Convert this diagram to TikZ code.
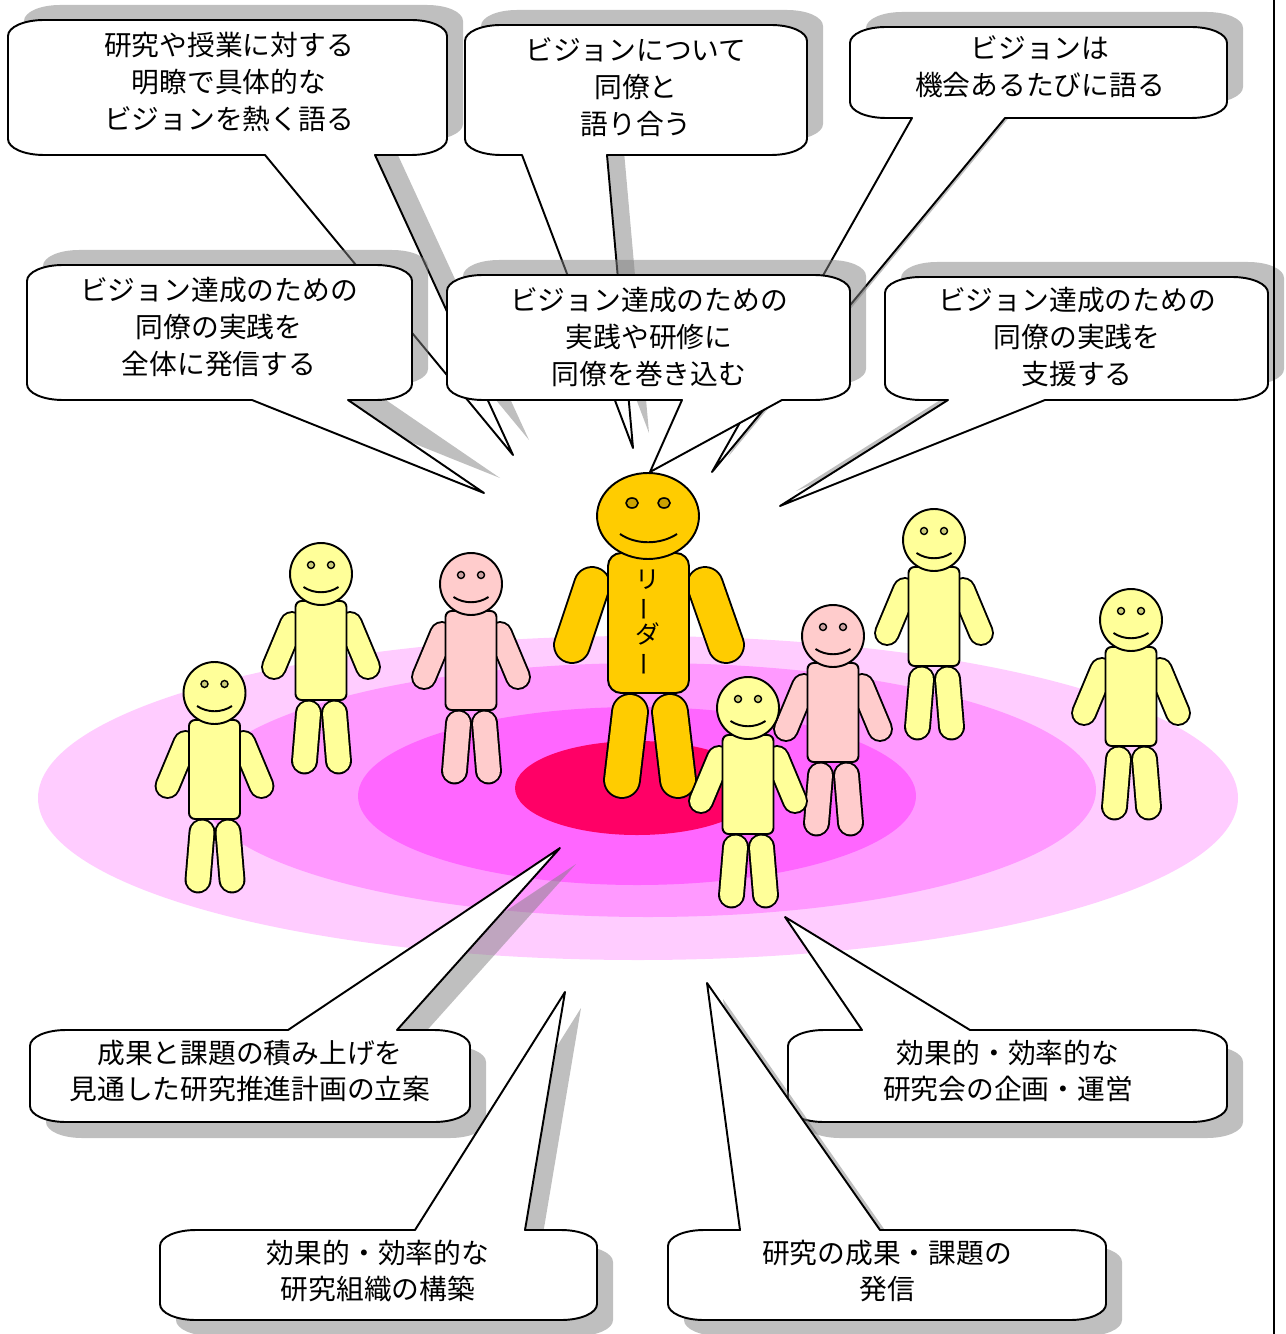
\documentclass[tikz,border=0pt]{standalone}
\usepackage{fontspec}
\usepackage{graphicx}
\newfontfamily\jp{Noto Sans CJK JP}
\usetikzlibrary{shapes.geometric,calc}

\definecolor{ringA}{HTML}{FFCCFF}
\definecolor{ringB}{HTML}{FF99FF}
\definecolor{ringC}{HTML}{FF66FF}
\definecolor{ringD}{HTML}{FF0066}
\definecolor{figY}{HTML}{FFFF99}
\definecolor{figP}{HTML}{FFCCCC}
\definecolor{lead}{HTML}{FFCC00}
\definecolor{shadowgray}{HTML}{808080}

% capsule limb: axis end points, radius (px), fill colour
\newcommand\capsule[4]{%
  \draw[line width={2*#3*0.567pt+1.1pt}, line cap=round, black] (#1) -- (#2);
  \draw[line width={2*#3*0.567pt-1.1pt}, line cap=round, #4] (#1) -- (#2);
}

% small figure: name, head centre x, y, colour
\newcommand\person[4]{%
  \begin{scope}[shift={(#2,#3)}]
    \capsule{-12.5,139}{-16.5,187}{12.5}{#4}
    \capsule{13.5,139}{17.5,187}{12.5}{#4}
    \capsule{-29,50}{-47,93}{12}{#4}
    \capsule{29,50}{47,93}{12}{#4}
    \node[figbody, fill=#4, minimum width=1.02cm, minimum height=1.98cm, rounded corners=3.4pt] (#1-body) at (0,76.5) {};
    \node[circle, draw, line width=1.1pt, fill=#4, minimum size=1.24cm, inner sep=0] (#1) at (0,0) {};
    \filldraw[fill=#4!80!black, line width=0.8pt] (-10,-9) circle [radius=3.5] (10,-9) circle [radius=3.5];
    \draw[line width=1.1pt] (-17.5,13) .. controls (-7,20) and (7,20) .. (17.5,13);
  \end{scope}
}

% callout with the pointer leaving the bottom edge
% #1 x1, #2 y1, #3 x2, #4 y2, #5 #6 pointer base, #7 tip, #8 #9 shadow offset
\newcommand\bubbledown[9]{%
  \def\bubblepath##1##2{
    (#1+##1,#2+16+##2)
    .. controls (#1+##1,#2+7+##2) and (#1+16+##1,#2+##2) .. (#1+36+##1,#2+##2)
    -- (#3-36+##1,#2+##2)
    .. controls (#3-16+##1,#2+##2) and (#3+##1,#2+7+##2) .. (#3+##1,#2+16+##2)
    -- (#3+##1,#4-16+##2)
    .. controls (#3+##1,#4-7+##2) and (#3-16+##1,#4+##2) .. (#3-36+##1,#4+##2)
    -- (#6+##1,#4+##2) -- ($(#7)+(##1,##2)$) -- (#5+##1,#4+##2)
    -- (#1+36+##1,#4+##2)
    .. controls (#1+16+##1,#4+##2) and (#1+##1,#4-7+##2) .. (#1+##1,#4-16+##2)
    -- cycle}%
  \fill[bubbleshadow] \bubblepath{#8}{#9};
  \filldraw[bubble] \bubblepath{0}{0};
}

% callout with the pointer leaving the top edge
\newcommand\bubbleup[9]{%
  \def\bubblepath##1##2{
    (#1+##1,#2+16+##2)
    .. controls (#1+##1,#2+7+##2) and (#1+16+##1,#2+##2) .. (#1+36+##1,#2+##2)
    -- (#5+##1,#2+##2) -- ($(#7)+(##1,##2)$) -- (#6+##1,#2+##2)
    -- (#3-36+##1,#2+##2)
    .. controls (#3-16+##1,#2+##2) and (#3+##1,#2+7+##2) .. (#3+##1,#2+16+##2)
    -- (#3+##1,#4-16+##2)
    .. controls (#3+##1,#4-7+##2) and (#3-16+##1,#4+##2) .. (#3-36+##1,#4+##2)
    -- (#1+36+##1,#4+##2)
    .. controls (#1+16+##1,#4+##2) and (#1+##1,#4-7+##2) .. (#1+##1,#4-16+##2)
    -- cycle}%
  \fill[bubbleshadow] \bubblepath{#8}{#9};
  \filldraw[bubble] \bubblepath{0}{0};
}

\begin{document}
\begin{tikzpicture}[x=0.02cm, y=-0.02cm,
  bubble/.style={fill=white, draw=black, line width=1.1pt, line join=round},
  bubbleshadow/.style={fill=shadowgray, fill opacity=0.5},
  figbody/.style={draw, line width=1.1pt, inner sep=0},
  txt/.style={inner sep=0, align=center, font=\jp\fontsize{15.8pt}{20.9pt}\selectfont}]
\useasboundingbox (0,0) rectangle (1285,1334);

% ground rings
\fill[ringA] (638,798) ellipse [x radius=600, y radius=162];
\fill[ringB] (648,790) ellipse [x radius=448, y radius=127];
\fill[ringC] (637,796) ellipse [x radius=279, y radius=89];
\fill[ringD] (637,788) ellipse [x radius=122, y radius=47];

% group members
\person{p1}{214.5}{693}{figY}
\person{p2}{321}{574}{figY}
\person{p3}{471}{584}{figP}
\person{p7}{934}{540}{figY}
\person{p8}{1131}{620}{figY}

% the leader
\capsule{630,712}{622,780}{18}{lead}
\capsule{670,712}{678,780}{18}{lead}
\capsule{592,585}{572,645}{18}{lead}
\capsule{705,585}{726,645}{18}{lead}
\node[figbody, fill=lead, rounded corners=7.4pt, minimum width=1.62cm, minimum height=2.8cm] (leader-body) at (648.5,623) {};
\node[inner sep=0, align=center, font=\jp\fontsize{14pt}{14.8pt}\selectfont] (leader-label) at (648,623)
  {リ\\\rotatebox[origin=c]{90}{ー}\\ダ\\\rotatebox[origin=c]{90}{ー}};
\node[ellipse, draw, line width=1.1pt, fill=lead, minimum width=2.04cm, minimum height=1.72cm, inner sep=0] (leader) at (648,516) {};
\filldraw[fill=lead!80!black, line width=0.9pt] (632,503) ellipse [x radius=6, y radius=5] (664,503) ellipse [x radius=6, y radius=5];
\draw[line width=1.1pt] (620,534) .. controls (636,545) and (660,545) .. (677,534);

\person{p6}{833}{636}{figP}
\person{p5}{748}{708}{figY}

% pointer tips
\coordinate (tipA) at (513,455);
\coordinate (tipB) at (633,448);
\coordinate (tipD) at (712,472);
\coordinate (tipE) at (484,493);
\coordinate (tipC) at (650,472);
\coordinate (tipF) at (780,506);
\coordinate (tipG) at (560,848);
\coordinate (tipJ) at (785,917);
\coordinate (tipH) at (565,992);
\coordinate (tipI) at (707,983);

% upper callouts
\bubbledown{8}{20}{447}{155}{265}{375}{tipA}{16}{-15}
\bubbledown{465}{25}{807}{155}{522}{607}{tipB}{16}{-15}
\bubbledown{850}{27}{1227}{118}{912}{1005}{tipD}{16}{-15}
\bubbledown{27}{265}{412}{400}{252}{348}{tipE}{16}{-15}
\bubbledown{447}{275}{850}{400}{682}{782}{tipC}{16}{-15}
\bubbledown{885}{277}{1268}{400}{948}{1045}{tipF}{16}{-15}

% lower callouts
\bubbleup{30}{1030}{470}{1122}{288}{397}{tipG}{16}{16}
\bubbleup{788}{1030}{1227}{1122}{862}{970}{tipJ}{16}{16}
\bubbleup{160}{1230}{597}{1320}{415}{525}{tipH}{16}{16}
\bubbleup{668}{1230}{1106}{1320}{740}{880}{tipI}{16}{16}

% callout texts
\node[txt] (A) at (229,82) {研究や授業に対する\\明瞭で具体的な\\ビジョンを熱く語る};
\node[txt] (B) at (636,87) {ビジョンについて\\同僚と\\語り合う};
\node[txt] (D) at (1040,67) {ビジョンは\\機会あるたびに語る};
\node[txt] (E) at (219,327) {ビジョン達成のための\\同僚の実践を\\全体に発信する};
\node[txt] (C) at (649,337) {ビジョン達成のための\\実践や研修に\\同僚を巻き込む};
\node[txt] (F) at (1077,337) {ビジョン達成のための\\同僚の実践を\\支援する};
\node[txt] (G) at (250,1071) {成果と課題の積み上げを\\見通した研究推進計画の立案};
\node[txt] (J) at (1008,1071) {効果的・効率的な\\研究会の企画・運営};
\node[txt] (H) at (378,1271) {効果的・効率的な\\研究組織の構築};
\node[txt] (I) at (887,1271) {研究の成果・課題の\\発信};

% page edge rule
\draw[line width=0.9pt] (1274,0) -- (1274,1334);
\end{tikzpicture}
\end{document}
